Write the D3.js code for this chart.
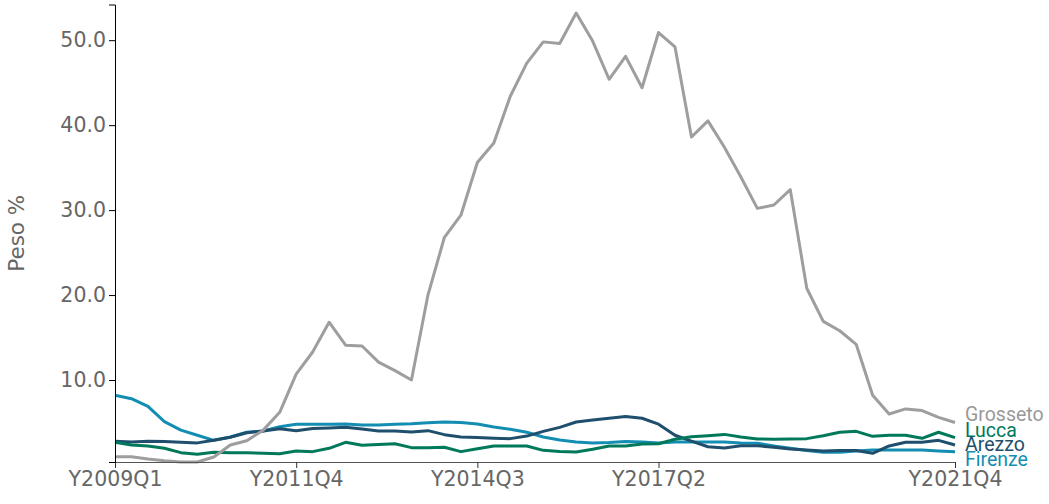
<!DOCTYPE html>
<html><head><meta charset="utf-8">
<script src="https://cdn.jsdelivr.net/npm/d3@7"></script>
<style>body{margin:0;background:#fff}svg{display:block}</style>
</head><body>
<svg id="chart" width="1049" height="504"></svg>
<script>
const quarters = [];
for (let y = 2009; y <= 2021; y++) for (let q = 1; q <= 4; q++) quarters.push("Y" + y + "Q" + q);

const seriesNames = ["Firenze", "Arezzo", "Lucca", "Grosseto"];
const grosseto = [0.98,0.98,0.7,0.5,0.35,0.35,0.94,2.35,2.86,4.1,6.2,10.7,13.3,16.8,14.1,14.0,12.1,11.1,10.0,20.0,26.8,29.4,35.6,37.9,43.4,47.3,49.8,49.6,53.2,49.9,45.4,48.1,44.4,50.9,49.2,38.6,40.5,37.4,33.9,30.2,30.6,32.4,20.8,16.9,15.8,14.2,8.2,6.0,6.6,6.4,5.6,5.0];
const lucca = [2.67,2.35,2.24,1.96,1.45,1.25,1.49,1.45,1.45,1.37,1.33,1.65,1.57,1.96,2.67,2.31,2.4,2.5,2.04,2.04,2.08,1.57,1.92,2.24,2.24,2.24,1.72,1.6,1.53,1.84,2.24,2.24,2.47,2.5,3.02,3.33,3.45,3.6,3.3,3.06,3.02,3.06,3.1,3.45,3.85,3.96,3.37,3.5,3.5,3.14,3.85,3.22];
const arezzo = [2.8,2.7,2.8,2.75,2.67,2.6,2.9,3.26,3.8,4.0,4.27,4.04,4.3,4.35,4.43,4.23,4.0,4.0,3.88,4.04,3.57,3.3,3.22,3.14,3.1,3.4,3.95,4.43,5.06,5.3,5.5,5.7,5.5,4.8,3.5,2.8,2.15,2.0,2.27,2.27,2.08,1.88,1.76,1.65,1.7,1.7,1.37,2.24,2.67,2.67,2.9,2.35];
const firenze = [8.2,7.8,6.9,5.1,4.1,3.5,2.9,3.3,3.85,4.0,4.5,4.8,4.8,4.8,4.82,4.7,4.7,4.8,4.86,4.98,5.06,5.0,4.82,4.47,4.2,3.85,3.3,2.95,2.7,2.6,2.65,2.75,2.7,2.6,2.7,2.7,2.7,2.7,2.6,2.55,2.24,1.96,1.7,1.5,1.5,1.65,1.76,1.76,1.76,1.76,1.65,1.57];
const seriesValues = [firenze, arezzo, lucca, grosseto];
const seriesColors = ["#148db3", "#1f4f6c", "#00795a", "#9e9e9e"];
const yTicks = [10, 20, 30, 40, 50];
const xTickLabels = ["Y2009Q1", "Y2011Q4", "Y2014Q3", "Y2017Q2", "Y2021Q4"];
const yLabel = "Peso %";

const svg = d3.select("#chart");
const m = {left: 115, right: 94, top: 4.5, bottom: 42};
const W = 1049, H = 504;
const x = d3.scalePoint().domain(quarters).range([m.left, W - m.right]);
const y = d3.scaleLinear().domain([0.35, 54.2]).range([H - m.bottom, m.top]);

const line = d3.line().x((d, i) => x(quarters[i])).y(d => y(d));
seriesValues.forEach((vals, k) => {
  svg.append("path").datum(vals)
    .attr("fill", "none").attr("stroke", seriesColors[k])
    .attr("stroke-width", 3).attr("stroke-linejoin", "round")
    .attr("d", line);
});

const gx = svg.append("g").attr("transform", `translate(0,${H - m.bottom})`)
  .call(d3.axisBottom(x).tickValues(xTickLabels).tickSize(6).tickPadding(3));
gx.select(".domain").attr("stroke", "#555");
gx.selectAll(".tick line").attr("stroke", "#333");
gx.selectAll("text").attr("fill", "#666").attr("font-size", 20.5).attr("font-family", "DejaVu Sans, sans-serif");

const gy = svg.append("g").attr("transform", `translate(${m.left},0)`)
  .call(d3.axisLeft(y).tickValues(yTicks).tickFormat(d3.format(".1f")).tickSize(6).tickPadding(3));
gy.select(".domain").attr("stroke", "#000");
gy.selectAll(".tick line").attr("stroke", "#000");
gy.selectAll("text").attr("fill", "#666").attr("font-size", 20.5).attr("font-family", "DejaVu Sans, sans-serif");

svg.append("text").text(yLabel)
  .attr("transform", `translate(24,${(m.top + H - m.bottom) / 2}) rotate(-90)`)
  .attr("text-anchor", "middle").attr("fill", "#666")
  .attr("font-size", 21.5).attr("font-family", "DejaVu Sans, sans-serif");

const labels = seriesNames.map((n, k) => ({name: n, color: seriesColors[k], pos: y(seriesValues[k][seriesValues[k].length - 1])}));
labels.sort((a, b) => a.pos - b.pos);
for (let i = 1; i < labels.length; i++) {
  if (labels[i].pos < labels[i - 1].pos + 14.5) labels[i].pos = labels[i - 1].pos + 14.5;
}
labels.forEach(l => {
  svg.append("text").text(l.name)
    .attr("x", x(quarters[quarters.length - 1]) + 10)
    .attr("y", l.pos - 1)
    .attr("fill", l.color === "#9e9e9e" ? "#999" : l.color)
    .attr("font-size", 19.5).attr("font-family", "Roboto, sans-serif");
});
</script>
</body></html>
